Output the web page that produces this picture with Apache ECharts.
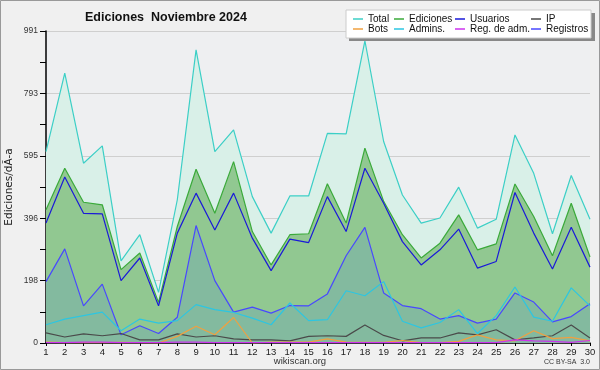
<!DOCTYPE html>
<html><head><meta charset="utf-8">
<script src="https://cdn.jsdelivr.net/npm/echarts@6/dist/echarts.min.js"></script>
<style>html,body{margin:0;padding:0;background:#f0f0f0}#c{width:600px;height:370px}</style>
</head><body><div id="c"></div>
<script>
const days = ['1','2','3','4','5','6','7','8','9','10','11','12','13','14','15','16','17','18','19','20','21','22','23','24','25','26','27','28','29','30'];
const yTicks = [0,198,396,595,793,991];
const total      = [608,857,571,626,261,344,161,455,931,608,677,465,349,467,467,666,664,960,640,470,381,397,495,365,393,661,539,347,532,393];
const ediciones  = [423,555,447,439,233,286,129,370,552,412,576,354,248,344,347,506,381,619,450,344,270,317,407,296,315,505,402,277,444,273];
const usuarios   = [381,527,412,410,198,270,118,349,476,359,476,333,230,330,319,465,354,555,444,322,248,296,362,238,259,478,349,235,368,241];
const registros  = [195,299,118,187,26,55,30,82,373,198,98,114,95,119,118,156,277,367,159,119,109,76,87,63,76,159,130,67,84,125];
const admins     = [58,76,87,98,39,76,63,71,122,106,97,79,58,127,71,74,166,150,195,69,48,65,106,30,87,178,82,69,175,118];
const ip         = [32,19,29,23,30,10,10,29,19,23,13,10,10,7,21,23,21,57,24,7,16,16,32,26,42,10,16,23,57,16];
const bots       = [3,1,1,1,2,1,0,21,53,26,81,0,3,3,3,13,3,2,2,8,1,1,5,26,10,7,39,14,18,7];
const regAdm     = [1,1,3,3,1,1,1,3,3,1,1,1,1,1,1,1,1,1,1,1,1,1,1,1,1,10,7,5,2,8];

const C = {total:'#3ccfc6', ed:'#3aaa3a', us:'#1a1ad8', ip:'#4a4a4a', bots:'#f0a040', adm:'#2cc6e2', radm:'#cc33ee', reg:'#4848ff'};
const chart = echarts.init(document.getElementById('c'));
const line = (name, data, color, extra) => Object.assign({
  name, type:'line', data, symbol:'none', smooth:false, animation:false,
  lineStyle:{color, width:1.2}, itemStyle:{color}
}, extra||{});
const F = 'Liberation Sans';
const legText = {fontFamily:F, fontSize:10, color:'#111', lineHeight:10};
const legBase = {orient:'vertical', top:14, itemWidth:10, itemHeight:1.5, itemGap:0, itemTextGap:4, icon:'rect', textStyle:legText, padding:0, selectedMode:false};
chart.setOption({
  backgroundColor:'#f0f0f0',
  animation:false,
  title:{text:'Ediciones  Noviembre 2024', left:85, top:11, padding:0,
    textStyle:{fontFamily:F, fontSize:12.5, fontWeight:'bold', color:'#111'}},
  graphic:[
    {type:'rect', shape:{x:0.5,y:0.5,width:599,height:369}, style:{fill:'none', stroke:'#999', lineWidth:1}, z:100},
    {type:'rect', shape:{x:349,y:13,width:246,height:28}, style:{fill:'#888'}, z:5},
    {type:'rect', shape:{x:346,y:10,width:245,height:28}, style:{fill:'#fff', stroke:'#ccc'}, z:6},
    {type:'text', x:300, y:356, style:{text:'wikiscan.org', font:'9.5px "Liberation Sans"', fill:'#333', align:'center'}, z:10},
    {type:'text', x:590, y:359, style:{text:'CC BY-SA  3.0', font:'7px "Liberation Sans"', fill:'#333', align:'right'}, z:10}
  ],
  legend:[
    Object.assign({}, legBase, {left:353, data:['Total','Bots'], z:10}),
    Object.assign({}, legBase, {left:394, data:['Ediciones','Admins.'], z:10}),
    Object.assign({}, legBase, {left:455, data:['Usuarios','Reg. de adm.'], z:10}),
    Object.assign({}, legBase, {left:531, data:['IP','Registros'], z:10})
  ],
  grid:{left:46, right:10, top:31, bottom:27, show:true, backgroundColor:'#eeeff1', borderWidth:0, outerBoundsMode:'none', containLabel:false},
  xAxis:{type:'category', data:days, boundaryGap:false,
    axisLine:{lineStyle:{color:'#000', width:1.5}},
    axisTick:{show:true, length:3, lineStyle:{color:'#000'}},
    axisLabel:{interval:0, fontFamily:F, fontSize:9.5, color:'#222', margin:4},
    splitLine:{show:false}},
  yAxis:{type:'value', min:0, max:991, interval:198.2,
    name:'Ediciones/dÃ-a', nameLocation:'middle', nameGap:31, nameRotate:90, nameMoveOverlap:false,
    nameTextStyle:{fontFamily:'DejaVu Sans', fontSize:10.5, color:'#222'},
    axisLine:{show:true, lineStyle:{color:'#000', width:1.5}},
    axisTick:{show:true, length:6, lineStyle:{color:'#000'}},
    minorTick:{show:true, splitNumber:2, length:6, lineStyle:{color:'#000'}},
    axisLabel:{fontFamily:F, fontSize:8.5, color:'#333', margin:8,
      formatter:v=>String(Math.round(v))},
    splitLine:{show:true, lineStyle:{color:'#cfcfcf', width:1}}},
  series:[
    line('Total', total, C.total, {areaStyle:{color:'#d9f0e8', opacity:1}, z:2}),
    line('Ediciones', ediciones, C.ed, {areaStyle:{color:'#91c891', opacity:1}, z:3}),
    line('Registros', registros, C.reg, {areaStyle:{color:'#83ba9f', opacity:1}, z:4}),
    line('Usuarios', usuarios, C.us, {z:5}),
    line('Admins.', admins, C.adm, {z:5}),
    line('IP', ip, C.ip, {z:5}),
    line('Bots', bots, C.bots, {z:5}),
    line('Reg. de adm.', regAdm, C.radm, {z:5})
  ]
});
</script></body></html>
